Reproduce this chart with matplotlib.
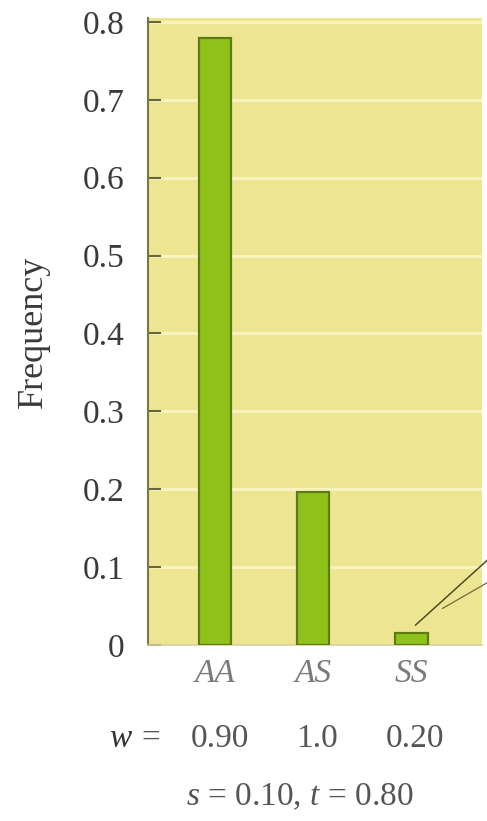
import matplotlib.pyplot as plt

# data
genotypes = ['AA', 'AS', 'SS']
freqs = [0.78, 0.196, 0.015]
fitness = ['0.90', '1.0', '0.20']
yticks = [0, 0.1, 0.2, 0.3, 0.4, 0.5, 0.6, 0.7, 0.8]
ytick_labels = ['0', '0.1', '0.2', '0.3', '0.4', '0.5', '0.6', '0.7', '0.8']

plt.rcParams['font.family'] = ['Liberation Serif', 'DejaVu Serif']
plt.rcParams['mathtext.fontset'] = 'custom'
plt.rcParams['mathtext.it'] = 'Liberation Serif:italic'
plt.rcParams['mathtext.rm'] = 'Liberation Serif'

fig = plt.figure(figsize=(4.87, 8.21), dpi=100)
ax = fig.add_axes([0.304, 0.2144, 0.686, 0.7636])
ax.set_facecolor('#EEE592')

x = list(range(len(genotypes)))
ax.set_xlim(-0.68, 2.72)
ax.set_ylim(0, 0.805)

# light horizontal grid
for t in yticks[1:]:
    ax.axhline(t, color='#F9F3C0', lw=2.2, zorder=1)

ax.bar(x, freqs, width=0.33, color='#8EC21A', edgecolor='#5E7A12',
       linewidth=1.6, zorder=3)

# callout lines from the SS bar going off to the right
ax.annotate('', xy=(2.02, 0.023), xytext=(2.8, 0.112),
            arrowprops=dict(arrowstyle='-', color='#4d4d2a', lw=1.1),
            annotation_clip=False, zorder=4)
ax.annotate('', xy=(2.29, 0.045), xytext=(2.8, 0.082),
            arrowprops=dict(arrowstyle='-', color='#6d6d3a', lw=0.9),
            annotation_clip=False, zorder=4)

ax.set_yticks(yticks)
ax.set_yticklabels(ytick_labels, fontsize=24, color='#3a3a3a')
ax.set_xticks(x)
ax.set_xticklabels(genotypes, fontsize=24, style='italic', color='#7a7a7a')
ax.tick_params(axis='y', direction='in', length=9, width=1.5, color='#66663a', pad=17)
ax.tick_params(axis='x', length=0, pad=10)

for s in ['top', 'right']:
    ax.spines[s].set_visible(False)
ax.spines['left'].set_color('#77774a')
ax.spines['left'].set_linewidth(1.5)
ax.spines['bottom'].set_color('#d8d0a0')
ax.spines['bottom'].set_linewidth(1.2)

ax.set_ylabel('Frequency', fontsize=26, color='#3a3a3a')
ax.yaxis.set_label_coords(-0.293, 0.5)

# fitness row and parameters
fig.text(0.247, 0.1, 'w', fontsize=24, style='italic', color='#333333', ha='center', va='center')
fig.text(0.31, 0.1, '=', fontsize=24, color='#555555', ha='center', va='center')
for xi, f in zip(x, fitness):
    xf = fig.transFigure.inverted().transform(ax.transData.transform((xi, 0)))[0]
    fig.text(xf + 0.01 if xi == 0 else xf + 0.008, 0.1, f, fontsize=24,
             color='#555555', ha='center', va='center')
fig.text(0.616, 0.029, r'$s$ = 0.10, $t$ = 0.80', fontsize=24, color='#555555',
         ha='center', va='center')

fig.savefig('out.png', dpi=100)
